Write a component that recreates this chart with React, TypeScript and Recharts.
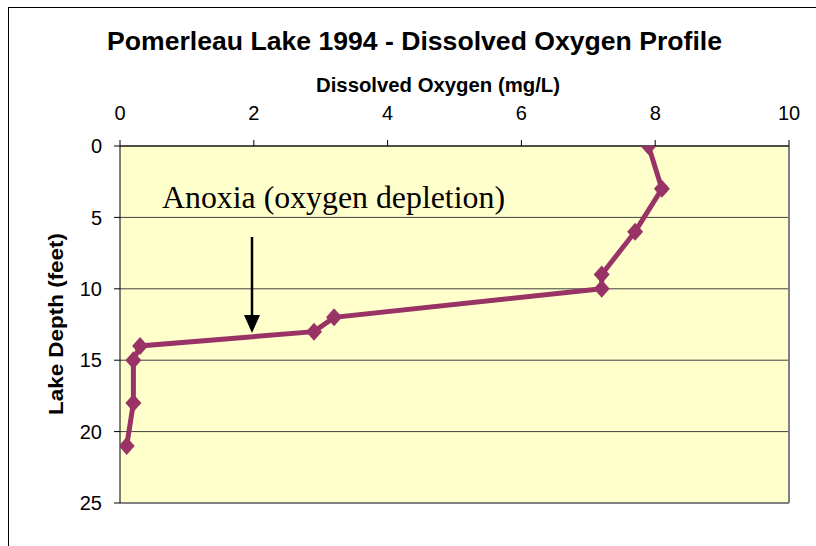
import React from "react";
import {
  ScatterChart,
  Scatter,
  XAxis,
  YAxis,
  CartesianGrid,
  ReferenceLine,
} from "recharts";

const depthFeet = [0, 3, 6, 9, 10, 12, 13, 14, 15, 18, 21];
const dissolvedOxygen = [7.9, 8.1, 7.7, 7.2, 7.2, 3.2, 2.9, 0.3, 0.2, 0.2, 0.1];
const xTicks = [0, 2, 4, 6, 8, 10];
const yTicks = [0, 5, 10, 15, 20, 25];

const data = depthFeet.map((d, i) => ({ depth: d, oxygen: dissolvedOxygen[i] }));

const SANS = "'Liberation Sans', Arial, sans-serif";
const SERIF = "'Liberation Serif', 'Times New Roman', serif";
const LINE = "#993366";

const Diamond = (props: any) => {
  const { cx, cy } = props;
  if (cx == null || cy == null) return null;
  const w = 8;
  const h = 9;
  return (
    <path
      d={`M${cx},${cy - h} L${cx + w},${cy} L${cx},${cy + h} L${cx - w},${cy} Z`}
      fill={LINE}
    />
  );
};

export default function App() {
  return (
    <div
      style={{
        position: "absolute",
        left: 0,
        top: 0,
        width: 816,
        height: 546,
        background: "#fff",
        overflow: "hidden",
      }}
    >
      <ScatterChart
        width={816}
        height={546}
        margin={{ top: 116, right: 27, bottom: 43, left: 60 }}
      >
        <CartesianGrid
          vertical={false}
          horizontal={true}
          stroke="#404040"
          strokeWidth={1}
          fill="#FFFFCC"
          fillOpacity={1}
        />
        <XAxis
          type="number"
          dataKey="oxygen"
          orientation="top"
          domain={[0, 10]}
          ticks={xTicks}
          height={30}
          axisLine={{ stroke: "#000", strokeWidth: 1 }}
          tickLine={{ stroke: "#000" }}
          tickSize={6}
          tickMargin={20}
          tick={{ fill: "#000", fontSize: 20, fontFamily: SANS }}
          allowDataOverflow
        />
        <YAxis
          type="number"
          dataKey="depth"
          reversed
          domain={[0, 25]}
          ticks={yTicks}
          width={60}
          axisLine={{ stroke: "#000", strokeWidth: 1 }}
          tickLine={{ stroke: "#000" }}
          tickSize={6}
          tickMargin={12}
          tick={{ fill: "#000", fontSize: 20, fontFamily: SANS }}
          allowDataOverflow
        />
        <ReferenceLine x={10} stroke="#808080" strokeWidth={2} />
        <ReferenceLine y={25} stroke="#808080" strokeWidth={2} />
        <Scatter
          data={data}
          fill={LINE}
          shape={Diamond}
          line={{ stroke: LINE, strokeWidth: 5 }}
          lineType="joint"
          isAnimationActive={false}
        />
      </ScatterChart>

      <svg
        width={816}
        height={546}
        style={{ position: "absolute", left: 0, top: 0, pointerEvents: "none" }}
      >
        <rect x={8.5} y={7.5} width={830} height={560} fill="none" stroke="#000" strokeWidth={1} />
        <text
          x={107}
          y={50}
          textLength={615}
          lengthAdjust="spacingAndGlyphs"
          fontFamily={SANS}
          fontWeight="bold"
          fontSize={25}
          fill="#000"
        >
          Pomerleau Lake 1994 - Dissolved Oxygen Profile
        </text>
        <text
          x={316}
          y={92}
          textLength={244}
          lengthAdjust="spacingAndGlyphs"
          fontFamily={SANS}
          fontWeight="bold"
          fontSize={20}
          fill="#000"
        >
          Dissolved Oxygen (mg/L)
        </text>
        <text
          x={0}
          y={0}
          transform="translate(63,415) rotate(-90)"
          textLength={182}
          lengthAdjust="spacingAndGlyphs"
          fontFamily={SANS}
          fontWeight="bold"
          fontSize={21}
          fill="#000"
        >
          Lake Depth (feet)
        </text>
        <text
          x={162}
          y={208}
          textLength={343}
          lengthAdjust="spacingAndGlyphs"
          fontFamily={SERIF}
          fontSize={31}
          fill="#000"
        >
          Anoxia (oxygen depletion)
        </text>
        <line x1={252} y1={237} x2={252} y2={316} stroke="#000" strokeWidth={2.5} />
        <polygon points="244,315 260,315 252,333" fill="#000" />
      </svg>
    </div>
  );
}
